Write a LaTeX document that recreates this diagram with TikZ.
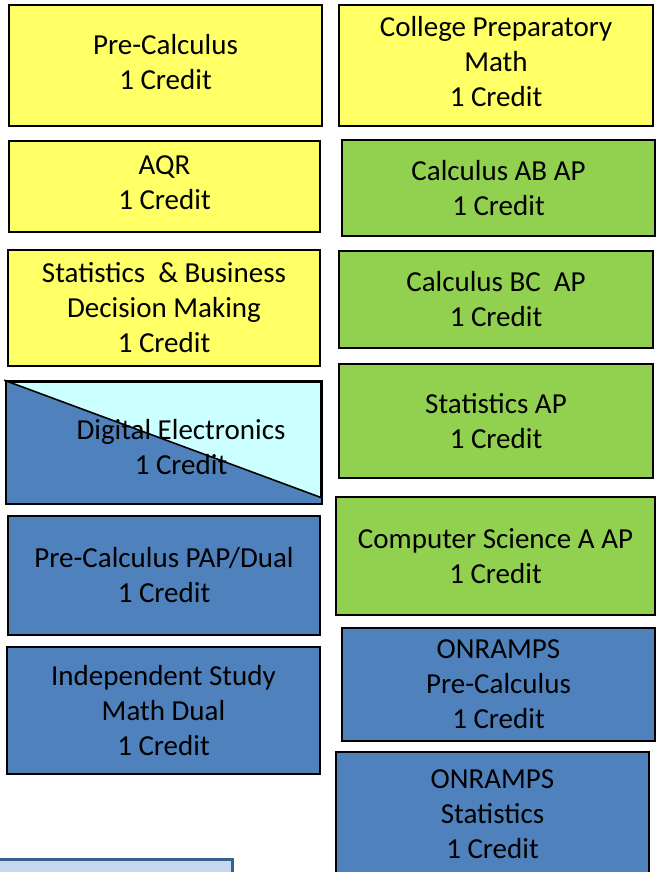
\documentclass[tikz,border=0pt]{standalone}
\usepackage{fontspec}
\setmainfont{Carlito}
\definecolor{yelx}{HTML}{FFFF66}
\definecolor{grnx}{HTML}{92D050}
\definecolor{blux}{HTML}{4F81BD}
\definecolor{cyax}{HTML}{CCFFFF}
\definecolor{notex}{HTML}{C6D9F1}
\definecolor{notebd}{HTML}{3B5F8C}
\tikzset{
  course/.style={draw=black, line width=1.6pt, align=center, inner sep=0pt,
    font=\fontsize{29}{35}\selectfont},
  yel/.style={course, fill=yelx},
  grn/.style={course, fill=grnx},
  blu/.style={course, fill=blux},
  lift/.style={text depth=8pt}
}

\begin{document}
\begin{tikzpicture}[x=1pt,y=-1pt]
  \useasboundingbox (0,0) rectangle (656,872);
  \clip (0,0) rectangle (656,872);
  % left column
  \node[yel, lift, minimum width=313, minimum height=121] (pcalc) at (165.5,65.5) {Pre-Calculus\\1 Credit};
  \node[yel, lift, minimum width=311, minimum height=91] (aqr) at (164.5,186.5) {AQR\\1 Credit};
  \node[yel, minimum width=312, minimum height=116] (sbdm) at (164,308) {Statistics~ \& Business\\Decision Making\\1 Credit};
  \node[course, fill=cyax, minimum width=314, minimum height=121] (digel) at (164,442.5) {};
  \fill[blux] (digel.north west) -- ([yshift=6]digel.south east) -- (digel.south east) -- (digel.south west) -- cycle;
  \draw[line width=1.6pt] ([xshift=-2,yshift=1]digel.north west) -- ([yshift=6]digel.south east);
  \draw[line width=1.6pt] (digel.north west) rectangle (digel.south east);
  \node[align=center, font=\fontsize{29}{35}\selectfont] (digtxt) at (181,447) {Digital Electronics\\1 Credit};
  \node[blu, minimum width=312, minimum height=119] (pcpap) at (164,575.5) {Pre-Calculus PAP/Dual\\1 Credit};
  \node[blu, minimum width=313, minimum height=127] (indst) at (163.5,710.5) {Independent Study\\Math Dual\\1 Credit};
  \node[draw=notebd, fill=notex, line width=3pt, minimum width=240, minimum height=60] (note) at (112,889) {};
  % right column
  \node[yel, lift, minimum width=314, minimum height=121] (cpm) at (496,65.5) {College Preparatory\\Math\\1 Credit};
  \node[grn, minimum width=313, minimum height=96] (calcab) at (498.5,188) {Calculus AB AP\\1 Credit};
  \node[grn, minimum width=314, minimum height=97] (calcbc) at (496,299.5) {Calculus BC~ AP\\1 Credit};
  \node[grn, minimum width=314, minimum height=114] (statap) at (496,421) {Statistics AP\\1 Credit};
  \node[grn, minimum width=319, minimum height=118] (csa) at (495.5,556) {Computer Science A AP\\1 Credit};
  \node[blu, minimum width=313, minimum height=113] (onpc) at (498.5,684.5) {ONRAMPS\\Pre-Calculus\\1 Credit};
  \node[blu, lift, minimum width=313, minimum height=132] (onst) at (492.5,818) {ONRAMPS\\Statistics\\1 Credit};
\end{tikzpicture}
\end{document}
